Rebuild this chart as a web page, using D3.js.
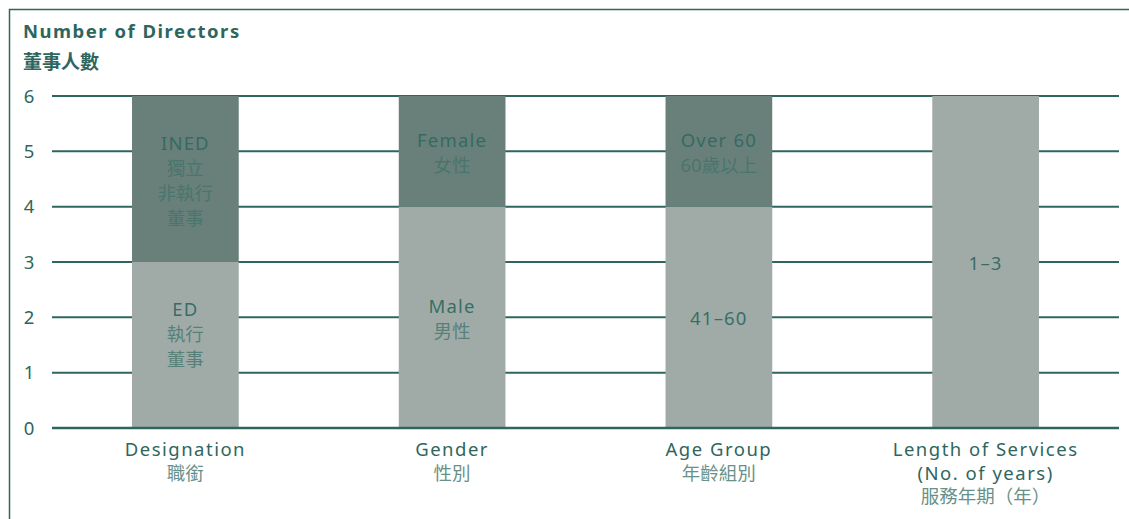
<!DOCTYPE html>
<html><head><meta charset="utf-8">
<script src="https://cdn.jsdelivr.net/npm/d3@7"></script>
<style>
html,body{margin:0;padding:0;background:#fff;}
svg{display:block;font-family:"Noto Sans","Noto Sans CJK TC",sans-serif;}
</style></head>
<body>
<svg id="c" width="1129" height="519"></svg>
<script>
const categories = ["Designation","Gender","Age Group","Length of Services"];
const categoryLabels = [["Designation","職銜"],["Gender","性別"],["Age Group","年齡組別"],["Length of Services","(No. of years)","服務年期（年）"]];
const lowerValues = [3,4,4,6];
const upperValues = [3,2,2,0];
const lowerLabels = [["ED","執行","董事",""],["Male","男性"],["41–60"],["1–3"]];
const upperLabels = [["INED","獨立","非執行","董事"],["Female","女性"],["Over 60","60歲以上"],[]];
const yTicks = [0,1,2,3,4,5,6];

const svg = d3.select("#c");
const W = 1129, H = 519;
const m = {left:52, right:1119, top:96, bottom:428};
const lineColor = "#2e665e";
const darkFill = "#697f79", lightFill = "#a0aba8";
const engColor = "#2e665e", cjkColor = "#6a9189";
const isCJK = t => /[\u3400-\u9fff\uff08\uff09]/.test(t);

// frame
svg.append("path").attr("d",`M9.5,${H} V9.5 H${W}`).attr("fill","none").attr("stroke",lineColor).attr("stroke-width",1.5);

svg.append("text").attr("x",23).attr("y",38).attr("font-size",18.5).attr("font-weight",700)
  .attr("letter-spacing",1.5).attr("fill",lineColor).text("Number of Directors");
svg.append("text").attr("x",23).attr("y",69).attr("font-size",19).attr("font-weight",700)
  .attr("fill",lineColor).attr("font-family","Noto Sans CJK TC").text("董事人數");

const x = d3.scaleBand().domain(categories).range([m.left,m.right]).paddingInner(0.6).paddingOuter(0.3);
const y = d3.scaleLinear().domain([0,6]).range([m.bottom,m.top]);

// grid
svg.append("g").selectAll("line").data(yTicks).join("line")
  .attr("x1",m.left).attr("x2",m.right).attr("y1",d=>y(d)).attr("y2",d=>y(d))
  .attr("stroke",lineColor).attr("stroke-width",2);

// y tick labels
svg.append("g").selectAll("text").data(yTicks).join("text")
  .attr("x",29).attr("y",d=>y(d)+6.5).attr("text-anchor","middle")
  .attr("font-size",18.5).attr("fill",engColor).text(d=>d);

const data = categories.map((c,i)=>({c,lo:lowerValues[i],up:upperValues[i],ll:lowerLabels[i],ul:upperLabels[i]}));

const g = svg.append("g");
data.forEach(d=>{
  const bx = x(d.c), bw = x.bandwidth();
  g.append("rect").attr("x",bx).attr("width",bw).attr("y",y(d.lo)).attr("height",y(0)-y(d.lo)).attr("fill",lightFill);
  if(d.up>0) g.append("rect").attr("x",bx).attr("width",bw).attr("y",y(d.lo+d.up)).attr("height",y(d.lo)-y(d.lo+d.up)).attr("fill",darkFill);
  const cx = bx+bw/2;
  const drawLabel = (lines, y0, y1)=>{
    if(!lines.length) return;
    const lh = 25;
    const mid = (y0+y1)/2;
    const start = mid - (lines.length-1)*lh/2 + 1.5;
    lines.forEach((t,k)=>{
      const cjk = isCJK(t);
      g.append("text").attr("x",cx).attr("y",start+k*lh+6.5).attr("text-anchor","middle")
        .attr("font-size",cjk?18.5:18.5).attr("letter-spacing",cjk?0:1.2)
        .attr("fill",cjk?"#3f7268":"#2f6a60").attr("fill-opacity",cjk?0.75:0.95).text(t);
    });
  };
  drawLabel(d.ll, y(d.lo), y(0));
  if(d.up>0) drawLabel(d.ul, y(d.lo+d.up), y(d.lo));
});

// x axis baseline
svg.append("line").attr("x1",m.left).attr("x2",m.right).attr("y1",y(0)).attr("y2",y(0)).attr("stroke",lineColor).attr("stroke-width",2.5);

// x labels
categories.forEach((c,i)=>{
  const cx = x(c)+x.bandwidth()/2;
  categoryLabels[i].forEach((t,k)=>{
    const cjk = isCJK(t);
    svg.append("text").attr("x",cx).attr("y",456+k*23.5).attr("text-anchor","middle")
      .attr("font-size",cjk?18.5:18.5).attr("letter-spacing",cjk?0:1.5)
      .attr("fill",cjk?cjkColor:engColor).text(t);
  });
});
</script>
</body></html>
